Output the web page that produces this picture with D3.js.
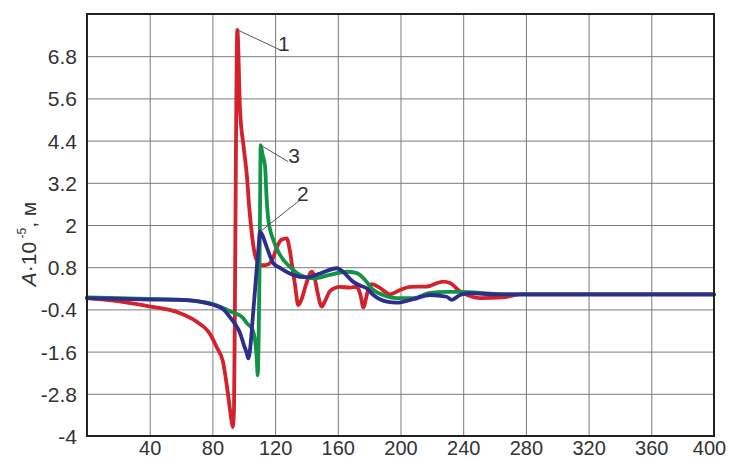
<!DOCTYPE html>
<html>
<head>
<meta charset="utf-8">
<script src="https://cdn.jsdelivr.net/npm/d3@7"></script>
<style>
  html, body { margin: 0; padding: 0; background: #fff; }
  svg { display: block; }
</style>
</head>
<body>
<svg id="chart" width="729" height="460"></svg>
<script>
// ---- data (x: distance, y: A·10^-5 m) ----
const xTicks = [40, 80, 120, 160, 200, 240, 280, 320, 360, 400];
const yTicks = [-4, -2.8, -1.6, -0.4, 0.8, 2, 3.2, 4.4, 5.6, 6.8];
const seriesNames = ["1", "2", "3"];

const curve1X = [0, 17, 38, 59, 70, 78.5, 83, 86.8, 89, 90.5, 92, 93, 93.8, 94.4, 95, 95.9, 97.6, 100, 102, 103.5, 105.1, 106.5, 108.3, 111.5, 114, 116.8, 119, 121, 124, 127.4, 129.5, 131, 132.7, 134.8, 137, 140, 143.4, 145, 147, 149.7, 152, 155, 161.4, 168, 172.1, 174.5, 176.3, 179, 181.6, 186.9, 193.3, 199.7, 206.1, 216.7, 227.3, 231.6, 238, 243, 250.7, 265.4, 276, 300, 400];
const curve1Y = [-0.08, -0.15, -0.3, -0.5, -0.75, -1.1, -1.5, -1.9, -2.5, -3.0, -3.5, -3.75, -3.2, 0, 4, 7.55, 5.3, 4.2, 3.4, 2.5, 1.77, 1.3, 1.0, 0.86, 0.86, 0.92, 1.1, 1.35, 1.58, 1.62, 1.25, 0.8, 0.3, -0.28, -0.1, 0.35, 0.67, 0.55, 0.1, -0.32, -0.15, 0.12, 0.24, 0.22, 0.24, 0.0, -0.34, 0.1, 0.32, 0.21, 0.03, 0.15, 0.24, 0.25, 0.39, 0.35, 0.11, 0.0, -0.08, -0.06, 0.03, 0.03, 0.03];

const curve2X = [0, 21, 40, 59, 72, 80.4, 87, 91.2, 95, 97.6, 100, 101.9, 102.9, 104, 106, 108, 109.5, 110.4, 112, 114.6, 118.9, 123.1, 131.4, 140.2, 148.7, 159.3, 163.3, 169.7, 174.2, 178.4, 182.7, 191.2, 197.6, 208.2, 218.8, 229.5, 232.7, 238, 244.4, 260, 400];
const curve2Y = [-0.08, -0.1, -0.12, -0.13, -0.18, -0.27, -0.4, -0.62, -0.85, -1.07, -1.4, -1.64, -1.79, -1.55, -0.5, 0.6, 1.4, 1.81, 1.7, 1.38, 0.91, 0.78, 0.58, 0.51, 0.62, 0.77, 0.67, 0.39, 0.28, 0.2, 0.01, -0.18, -0.21, -0.11, 0.01, -0.04, -0.13, 0.01, 0.06, 0.03, 0.03];

const curve3X = [0, 21, 40, 59, 72, 80.4, 91.2, 99.5, 101.9, 105.1, 107.2, 108.3, 108.9, 109.5, 110, 110.4, 110.8, 112, 113.6, 114.6, 115.7, 118.9, 123.1, 129.5, 135.9, 144.4, 155, 165.7, 172.1, 176.3, 182.7, 188.9, 197.6, 208.2, 218.8, 229.5, 239.9, 250.7, 270, 400];
const curve3Y = [-0.06, -0.08, -0.1, -0.12, -0.18, -0.25, -0.45, -0.64, -0.79, -0.93, -1.27, -1.8, -2.27, -1.2, 0.5, 2.5, 4.27, 4.0, 3.66, 2.75, 2.14, 1.57, 1.15, 0.81, 0.58, 0.48, 0.58, 0.67, 0.63, 0.49, 0.15, 0.01, -0.08, -0.08, 0.07, 0.1, 0.1, 0.07, 0.03, 0.03];

// ---- layout ----
const W = 729, H = 460;
const margin = { top: 14, right: 15, bottom: 24, left: 87 };
const iw = W - margin.left - margin.right;
const ih = H - margin.top - margin.bottom;
const FONT = "'Liberation Sans', Arial, sans-serif";

const svg = d3.select("#chart");
const g = svg.append("g").attr("transform", `translate(${margin.left},${margin.top})`);

const x = d3.scaleLinear().domain([0, 400]).range([0, iw]);
const y = d3.scaleLinear().domain([-4, 8]).range([ih, 0]);

// grid + x axis
const xAxis = d3.axisBottom(x).tickValues(xTicks).tickSize(-ih).tickPadding(0).tickFormat(d3.format("d"));
const gx = g.append("g").attr("transform", `translate(0,${ih})`).call(xAxis);
gx.select(".domain").remove();
gx.selectAll(".tick line").attr("stroke", "#7a7a7a").attr("stroke-width", 1);
gx.selectAll(".tick text").attr("y", 19).attr("dy", 0)
  .attr("font-family", FONT).attr("font-size", 20).attr("fill", "#333")
  .attr("x", (d, i, n) => i === n.length - 1 ? -5 : 0);

const yAxis = d3.axisLeft(y).tickValues(yTicks).tickSize(-iw).tickPadding(0).tickFormat(d => String(d));
const gy = g.append("g").call(yAxis);
gy.select(".domain").remove();
gy.selectAll(".tick line").attr("stroke", "#7a7a7a").attr("stroke-width", 1);
gy.selectAll(".tick text").attr("x", -10).attr("dy", "0.36em")
  .attr("font-family", FONT).attr("font-size", 21).attr("fill", "#333");

// curves
const line = d3.line().x(d => x(d[0])).y(d => y(d[1])).curve(d3.curveMonotoneX);
const series = [
  { name: seriesNames[0], xs: curve1X, ys: curve1Y, color: "#d3222c" },
  { name: seriesNames[2], xs: curve3X, ys: curve3Y, color: "#129447" },
  { name: seriesNames[1], xs: curve2X, ys: curve2Y, color: "#2d2d8c" }
];
series.forEach(s => {
  const pts = s.xs.map((v, i) => [v, s.ys[i]]);
  g.append("path").datum(pts).attr("d", line)
    .attr("fill", "none").attr("stroke", s.color).attr("stroke-width", 3.8)
    .attr("stroke-linejoin", "round").attr("stroke-linecap", "round");
});

// frame
g.append("rect").attr("x", 0).attr("y", 0).attr("width", iw).attr("height", ih)
  .attr("fill", "none").attr("stroke", "#222").attr("stroke-width", 2);

// curve labels with leader lines (anchored on each curve's peak)
const labelAnchors = [
  { name: seriesNames[0], px: 95.9, py: 7.55, lx: 123.1, ly: 6.98, dx: -2 },
  { name: seriesNames[2], px: 110.8, py: 4.27, lx: 128.4, ly: 3.8, dx: 0 },
  { name: seriesNames[1], px: 110.4, py: 1.81, lx: 135.9, ly: 2.71, dx: -3 }
];
labelAnchors.forEach(a => {
  g.append("line").attr("x1", x(a.px)).attr("y1", y(a.py)).attr("x2", x(a.lx)).attr("y2", y(a.ly))
    .attr("stroke", "#555").attr("stroke-width", 1);
  g.append("text").attr("x", x(a.lx) + a.dx).attr("y", y(a.ly) + 1).text(a.name)
    .attr("font-family", FONT).attr("font-size", 21).attr("fill", "#333");
});

// y axis title
const yt = svg.append("text").attr("transform", "translate(36,244) rotate(-90)")
  .attr("text-anchor", "middle").attr("font-family", FONT).attr("font-size", 21).attr("fill", "#333");
yt.append("tspan").attr("font-style", "italic").text("A");
yt.append("tspan").text("·10");
yt.append("tspan").attr("font-size", 12).attr("dy", -10).text(" -5");
yt.append("tspan").attr("dy", 10).text(", м");
</script>
</body>
</html>
